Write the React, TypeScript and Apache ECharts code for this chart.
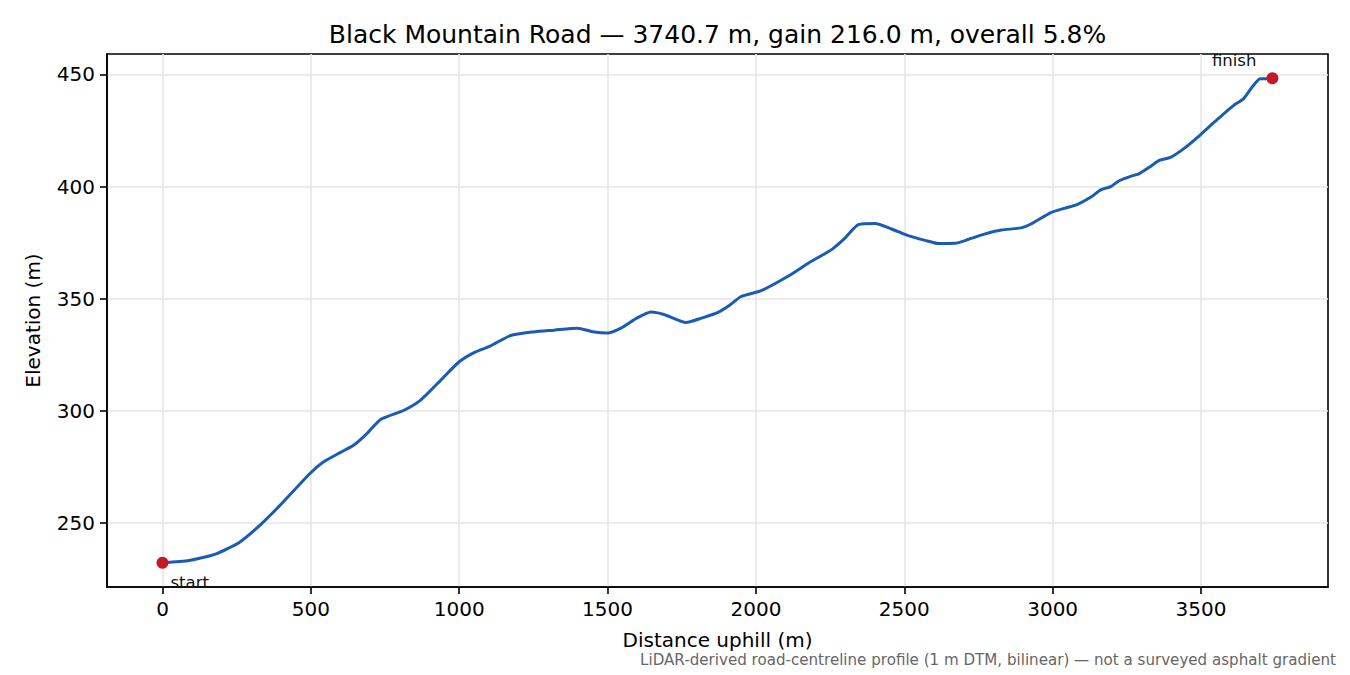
import React, { useEffect, useRef } from "react";
import * as echarts from "echarts";

const distances = [
  0, 90, 181, 260, 328, 396, 497, 542, 600, 644, 689, 735, 814, 870, 938, 1000,
  1050, 1106, 1173, 1250, 1320, 1399, 1450, 1500, 1545, 1600, 1646, 1690, 1765,
  1820, 1872, 1910, 1950, 2018, 2108, 2187, 2255, 2300, 2345, 2401, 2457, 2513,
  2570, 2615, 2671, 2715, 2770, 2827, 2894, 2927, 2994, 3039, 3084, 3128, 3162,
  3196, 3224, 3268, 3291, 3330, 3358, 3397, 3442, 3498, 3542, 3609, 3643, 3671,
  3699, 3715, 3740.7,
];
const elevations = [
  232.3, 233.3, 236.3, 241.5, 249.0, 257.9, 272.1, 277.2, 281.5, 284.7, 289.9,
  296.2, 300.3, 304.8, 313.7, 321.9, 326.0, 329.0, 333.6, 335.2, 336.0, 336.9,
  335.3, 334.7, 336.9, 341.5, 344.1, 343.0, 339.4, 341.5, 343.9, 347.0, 351.0,
  353.6, 360.0, 366.7, 371.9, 377.0, 383.0, 383.5, 381.1, 378.1, 376.0, 374.6,
  374.7, 376.4, 378.8, 380.6, 381.6, 383.3, 388.4, 390.3, 392.1, 395.2, 398.5,
  400.0, 402.6, 404.8, 405.7, 409.0, 411.6, 413.0, 416.9, 423.1, 428.4, 436.1,
  439.1, 444.1, 448.1, 448.1, 448.3,
];
const xTicks = [0, 500, 1000, 1500, 2000, 2500, 3000, 3500];
const yTicks = [250, 300, 350, 400, 450];
const endpointNames = ["start", "finish"];

const TITLE = "Black Mountain Road \u2014 3740.7 m, gain 216.0 m, overall 5.8%";
const FOOTNOTE =
  "LiDAR-derived road-centreline profile (1 m DTM, bilinear) \u2014 not a surveyed asphalt gradient";
const FONT = "DejaVu Sans";

export default function App() {
  const ref = useRef<HTMLDivElement>(null);
  useEffect(() => {
    if (!ref.current) return;
    const chart = echarts.init(ref.current, null, { renderer: "svg" });
    const line = distances.map((d, i) => [d, elevations[i]]);
    const last = distances.length - 1;
    const ends = [
      {
        value: [distances[0], elevations[0]],
        name: endpointNames[0],
        label: { position: [14, 26], align: "left", verticalAlign: "middle" },
      },
      {
        value: [distances[last], elevations[last]],
        name: endpointNames[1],
        label: { position: [-10, -12], align: "right", verticalAlign: "middle" },
      },
    ];
    const axisCommon = {
      axisLine: { show: true, onZero: false, lineStyle: { color: "#000", width: 1.6 } },
      splitLine: { show: true, lineStyle: { color: "#e6e6e6", width: 1.6 } },
    };
    chart.setOption({
      animation: false,
      backgroundColor: "#fff",
      textStyle: { fontFamily: FONT },
      grid: {
        left: 107,
        right: 22,
        top: 54,
        bottom: 88,
        show: true,
        borderColor: "#000",
        borderWidth: 1.6,
        containLabel: false,
      },
      xAxis: {
        type: "value",
        min: -187,
        max: 3928,
        ...axisCommon,
        axisTick: {
          show: true,
          inside: false,
          length: 7,
          customValues: xTicks,
          lineStyle: { color: "#000", width: 1.6 },
        },
        axisLabel: {
          customValues: xTicks,
          formatter: (v: number) => String(v),
          color: "#000",
          fontSize: 20,
          fontFamily: FONT,
          margin: 12,
        },
        name: "Distance uphill (m)",
        nameLocation: "middle",
        nameGap: 43,
        nameTextStyle: { color: "#000", fontSize: 20, fontFamily: FONT },
      },
      yAxis: {
        type: "value",
        min: 221.5,
        max: 459.1,
        ...axisCommon,
        axisTick: {
          show: true,
          inside: false,
          length: 7,
          customValues: yTicks,
          lineStyle: { color: "#000", width: 1.6 },
        },
        axisLabel: {
          customValues: yTicks,
          formatter: (v: number) => String(v),
          color: "#000",
          fontSize: 20,
          fontFamily: FONT,
          margin: 12,
        },
        name: "Elevation (m)",
        nameLocation: "middle",
        nameGap: 64,
        nameRotate: 90,
        nameTextStyle: { color: "#000", fontSize: 20, fontFamily: FONT },
      },
      series: [
        {
          type: "line",
          data: line,
          showSymbol: false,
          smooth: 0.2,
          lineStyle: { color: "#1a5cb5", width: 3 },
          z: 3,
        },
        {
          type: "scatter",
          data: ends,
          symbolSize: 12,
          itemStyle: { color: "#c41a28", opacity: 1 },
          z: 4,
          label: {
            show: true,
            formatter: (p: any) => p.name,
            color: "#111",
            fontSize: 16.5,
            fontFamily: FONT,
          },
        },
      ],
      graphic: [
        {
          type: "text",
          x: 717.5,
          y: 34,
          style: {
            text: TITLE,
            fill: "#000",
            fontSize: 25,
            fontFamily: FONT,
            align: "center",
            verticalAlign: "middle",
          },
        },
        {
          type: "text",
          x: 1336,
          y: 660,
          style: {
            text: FOOTNOTE,
            fill: "#666",
            fontSize: 15.1,
            fontFamily: FONT,
            align: "right",
            verticalAlign: "middle",
          },
        },
      ],
    });
    return () => chart.dispose();
  }, []);
  return (
    <div
      ref={ref}
      style={{ position: "fixed", left: 0, top: 0, width: 1350, height: 675 }}
    />
  );
}
